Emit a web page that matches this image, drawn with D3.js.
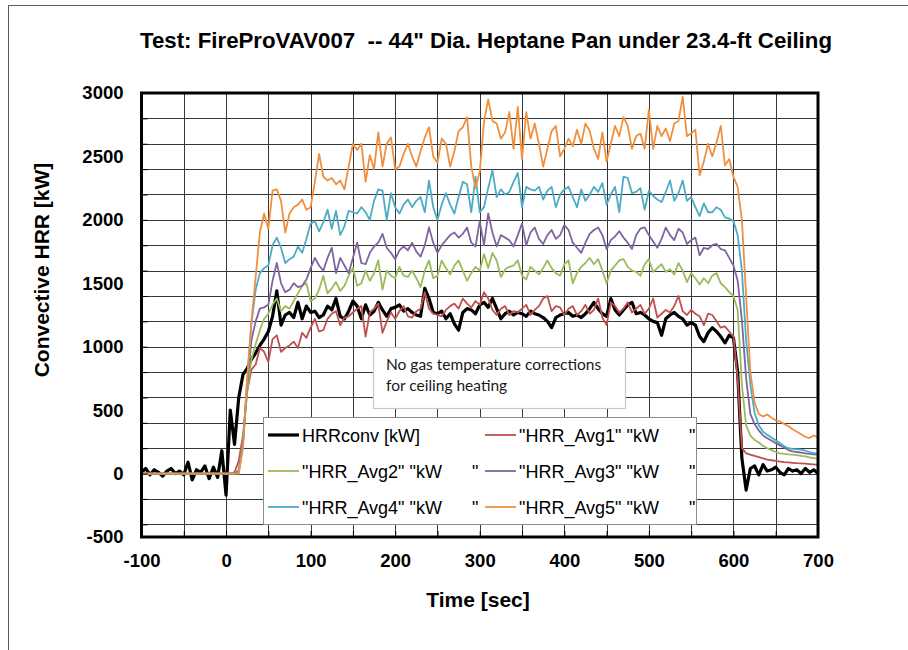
<!DOCTYPE html>
<html>
<head>
<meta charset="utf-8">
<script src="https://cdn.jsdelivr.net/npm/d3@7"></script>
<style>
  html, body { margin: 0; padding: 0; background: #ffffff; }
  svg { display: block; }
</style>
</head>
<body>
<svg id="chart" width="908" height="650"></svg>
<script>
// ---------------- DATA ----------------
const chartTitle = 'Test: FireProVAV007  -- 44" Dia. Heptane Pan under 23.4-ft Ceiling';
const xTitle = "Time [sec]";
const yTitle = "Convective HRR [kW]";
const xTickLabels = [-100, 0, 100, 200, 300, 400, 500, 600, 700];
const yTickLabels = [-500, 0, 500, 1000, 1500, 2000, 2500, 3000];
const seriesNames = ['HRRconv [kW]', '"HRR_Avg1" "kW      "', '"HRR_Avg2" "kW      "',
                     '"HRR_Avg3" "kW      "', '"HRR_Avg4" "kW      "', '"HRR_Avg5" "kW      "'];
const noteLines = ["No gas temperature corrections", "for ceiling heating"];

const time = [
  -100,-95,-90,-85,-80,-75,-70,-65,-60,-55,-50,-45,-40,-35,-30,-25,-20,-15,-10,-5,
  0,5,10,15,20,25,30,35,40,45,50,55,60,65,70,75,80,85,90,95,
  100,105,110,115,120,125,130,135,140,145,150,155,160,165,170,175,180,185,190,195,
  200,205,210,215,220,225,230,235,240,245,250,255,260,265,270,275,280,285,290,295,
  300,305,310,315,320,325,330,335,340,345,350,355,360,365,370,375,380,385,390,395,
  400,405,410,415,420,425,430,435,440,445,450,455,460,465,470,475,480,485,490,495,
  500,505,510,515,520,525,530,535,540,545,550,555,560,565,570,575,580,585,590,595,
  600,605,610,615,620,625,630,635,640,645,650,655,660,665,670,675,680,685,690,695,
  700];

const hrrConv = [
  10,40,-10,30,10,-20,20,40,0,20,-10,90,-50,30,10,60,-40,50,-30,180,
  -170,500,230,600,780,830,900,950,1010,1060,1120,1240,1440,1170,1250,1270,1230,1350,1220,1320,
  1270,1280,1230,1250,1320,1290,1380,1240,1220,1280,1360,1320,1220,1330,1250,1280,1350,1290,1240,1300,
  1310,1330,1280,1300,1270,1250,1240,1460,1380,1270,1260,1280,1220,1260,1180,1130,1270,1300,1290,1260,
  1330,1350,1310,1380,1300,1220,1260,1280,1250,1270,1260,1240,1280,1260,1250,1230,1200,1150,1230,1250,
  1260,1270,1240,1250,1230,1260,1300,1350,1300,1260,1240,1380,1290,1250,1290,1330,1350,1260,1270,1250,
  1220,1200,1190,1090,1220,1250,1270,1240,1220,1170,1190,1170,1080,1040,1110,1150,1120,1080,1030,1090,
  1070,800,120,-130,40,60,-10,70,20,30,50,10,-10,40,20,30,0,40,10,30,
  0];

const hrrAvg1 = [
  0,0,0,0,0,0,0,0,0,0,0,0,0,0,0,0,0,0,0,0,
  0,0,10,100,300,650,820,860,990,960,880,1060,1090,960,990,1010,1040,990,1110,1070,
  1150,1220,1120,1130,1220,1260,1280,1170,1230,1240,1270,1300,1320,1080,1270,1300,1340,1110,1200,1270,
  1220,1280,1320,1240,1230,1280,1300,1430,1300,1260,1250,1240,1290,1320,1340,1300,1380,1340,1310,1360,
  1330,1430,1380,1290,1250,1300,1320,1250,1280,1270,1300,1330,1250,1290,1320,1380,1400,1280,1320,1310,
  1250,1300,1320,1250,1280,1330,1260,1290,1380,1230,1170,1350,1320,1270,1300,1350,1270,1300,1330,1260,
  1300,1380,1230,1260,1290,1270,1320,1400,1280,1250,1290,1260,1240,1170,1260,1250,1200,1150,1160,1120,
  1080,750,200,160,150,140,130,120,110,105,100,95,90,88,85,82,80,78,75,72,
  70];

const hrrAvg2 = [
  0,0,0,0,0,0,0,0,0,0,0,0,0,0,0,0,0,0,0,0,
  0,0,0,30,250,650,900,1020,1130,1220,1260,1330,1380,1280,1320,1300,1360,1420,1480,1500,
  1360,1380,1450,1560,1420,1460,1510,1440,1480,1560,1620,1480,1500,1600,1520,1580,1680,1450,1600,1560,
  1540,1630,1560,1550,1600,1540,1470,1600,1680,1540,1560,1680,1620,1570,1640,1680,1600,1520,1580,1630,
  1600,1730,1620,1740,1680,1550,1610,1630,1640,1680,1560,1530,1630,1600,1570,1620,1680,1620,1580,1560,
  1650,1680,1500,1580,1630,1660,1700,1650,1690,1600,1500,1600,1640,1680,1690,1630,1600,1590,1560,1650,
  1690,1590,1620,1650,1590,1610,1570,1660,1600,1510,1580,1540,1490,1540,1500,1560,1580,1500,1470,1430,
  1400,1290,700,380,300,265,245,220,200,185,170,160,155,152,150,145,140,135,128,122,
  118];

const hrrAvg3 = [
  0,0,0,0,0,0,0,0,0,0,0,0,0,0,0,0,0,0,0,0,
  0,0,0,20,250,700,1050,1200,1300,1310,1330,1520,1660,1500,1430,1450,1500,1470,1480,1530,
  1620,1700,1640,1600,1700,1780,1580,1700,1640,1580,1700,1820,1660,1650,1740,1790,1820,1890,1780,1740,
  1690,1760,1790,1760,1820,1750,1710,1800,1940,1820,1740,1800,1840,1880,1900,1860,1890,1940,1820,1790,
  1990,1800,2050,1900,1790,1880,1860,1840,1790,1880,1970,1800,1900,1940,1850,1810,1880,1920,1850,1880,
  1960,1920,1820,1780,1740,1820,1890,1920,1940,1880,1770,1840,1870,1910,1860,1820,1770,1880,1930,1940,
  1880,1830,1780,1850,1940,1880,1840,1930,1900,1810,1840,1860,1720,1780,1770,1800,1810,1770,1760,1700,
  1640,1520,1210,750,470,390,340,300,278,260,240,222,205,185,175,170,165,160,155,152,
  150];

const hrrAvg4 = [
  0,0,0,0,0,0,0,0,0,0,0,0,0,0,0,0,0,0,0,0,
  0,0,0,10,220,750,1180,1450,1580,1620,1640,1800,1860,1780,1660,1690,1710,1790,1740,1850,
  1970,1990,1910,1980,2080,1930,2070,1880,1950,2070,2060,2050,2100,2060,2000,2150,2240,2230,2000,2210,
  2100,2050,2120,2160,2100,2150,2180,2060,2310,2100,2000,2120,2210,2120,2050,2180,2300,2280,2060,2340,
  2060,2100,2250,2390,2180,2240,2200,2220,2300,2370,2100,2260,2240,2230,2260,2160,2230,2260,2100,2200,
  2240,2260,2180,2100,2240,2150,2200,2260,2220,2290,2120,2200,2260,2060,2340,2330,2210,2220,2250,2080,
  2230,2190,2160,2140,2220,2310,2150,2210,2310,2150,2180,2100,2030,2130,2060,2060,2100,2080,2020,2010,
  1990,1880,1600,1050,700,480,380,330,305,285,262,240,215,200,195,192,188,180,170,162,
  158];

const hrrAvg5 = [
  0,0,0,0,0,0,0,0,0,0,0,0,0,0,0,0,0,0,0,0,
  0,0,0,0,200,750,1200,1550,1900,2050,1930,2230,2240,2150,1900,2050,2100,2120,2160,2080,
  2100,2300,2520,2340,2310,2330,2280,2310,2240,2420,2600,2550,2600,2300,2510,2400,2690,2420,2600,2650,
  2400,2420,2520,2600,2500,2420,2540,2650,2730,2500,2450,2640,2600,2420,2540,2700,2730,2810,2420,2250,
  2380,2770,2950,2780,2760,2640,2690,2850,2560,2890,2480,2850,2640,2760,2600,2420,2560,2700,2740,2500,
  2560,2640,2580,2710,2600,2760,2700,2560,2480,2690,2460,2600,2740,2660,2810,2740,2560,2660,2680,2560,
  2870,2560,2740,2660,2720,2620,2760,2780,2970,2660,2680,2710,2350,2460,2600,2500,2610,2740,2430,2480,
  2340,2260,2000,1400,800,560,470,450,465,440,420,410,390,375,350,330,310,290,280,300,
  285];

const seriesColors = ["#000000", "#C0504D", "#9BBB59", "#8064A2", "#4BACC6", "#F0903E"];

// ---------------- CHART ----------------
(function () {
const svg = d3.select("#chart");
const pLeft = 141.5, pRight = 818, pTop = 93, pBottom = 537;
const x = d3.scaleLinear().domain([-100, 700]).range([pLeft, pRight]);
const y = d3.scaleLinear().domain([-500, 3000]).range([pBottom, pTop]);
const plainFmt = d => String(d);

// outer chart-area border (partially visible)
svg.append("path")
  .attr("d", "M8.5,650 V5.5 H908")
  .attr("fill", "none").attr("stroke", "#595959").attr("stroke-width", 1);

// title
svg.append("text")
  .attr("x", 486).attr("y", 48)
  .attr("text-anchor", "middle")
  .attr("font-family", "'Liberation Sans', Arial, sans-serif")
  .attr("font-weight", "bold").attr("font-size", 22)
  .attr("textLength", 692).attr("lengthAdjust", "spacingAndGlyphs")
  .style("white-space", "pre")
  .text(chartTitle);

// plot background
svg.append("rect").attr("x", pLeft).attr("y", pTop)
  .attr("width", pRight - pLeft).attr("height", pBottom - pTop).attr("fill", "#fff");

// gridlines
const grid = svg.append("g").attr("shape-rendering", "crispEdges");
grid.selectAll(".gx").data(x.ticks(16)).enter().append("line")
  .attr("x1", d => Math.round(x(d)) + 0.5).attr("x2", d => Math.round(x(d)) + 0.5)
  .attr("y1", pTop).attr("y2", pBottom)
  .attr("stroke", "#383838").attr("stroke-width", 1);
grid.selectAll(".gy").data(y.ticks(14)).enter().append("line")
  .attr("y1", d => Math.round(y(d)) + 0.5).attr("y2", d => Math.round(y(d)) + 0.5)
  .attr("x1", pLeft).attr("x2", pRight)
  .attr("stroke", "#383838").attr("stroke-width", 1);

// clip
svg.append("defs").append("clipPath").attr("id", "plotClip")
  .append("rect").attr("x", pLeft).attr("y", pTop)
  .attr("width", pRight - pLeft).attr("height", pBottom - pTop);

const allSeries = [hrrConv, hrrAvg1, hrrAvg2, hrrAvg3, hrrAvg4, hrrAvg5];
const line = d3.line().x((d, i) => x(time[i])).y(d => y(d));
const lineG = svg.append("g").attr("clip-path", "url(#plotClip)");
allSeries.forEach((s, k) => {
  lineG.append("path")
    .attr("d", line(s))
    .attr("fill", "none")
    .attr("stroke", seriesColors[k])
    .attr("stroke-width", k === 0 ? 3.2 : 1.8)
    .attr("stroke-linejoin", "round")
    .attr("stroke-linecap", "round");
});

// annotation box
const note = svg.append("g");
note.append("rect").attr("x", 373.5).attr("y", 347.5).attr("width", 252).attr("height", 61)
  .attr("fill", "#fff").attr("stroke", "#c8c8c8").attr("stroke-width", 1.2);
note.selectAll("text").data(noteLines).enter().append("text")
  .attr("x", 386).attr("y", (d, i) => 370 + i * 21)
  .attr("font-family", "Lato, 'Open Sans', sans-serif")
  .attr("font-size", 15.5).attr("fill", "#1a1a1a")
  .text(d => d);

// legend
const leg = svg.append("g");
leg.append("rect").attr("x", 263.5).attr("y", 417.5).attr("width", 433).attr("height", 107)
  .attr("fill", "#fff").attr("stroke", "#8c8c8c").attr("stroke-width", 1);
const legRowY = [435, 471, 507];
const legColX = [268, 485];
seriesNames.forEach((name, k) => {
  const col = k % 2, row = Math.floor(k / 2);
  const lx = legColX[col], ly = legRowY[row];
  leg.append("line").attr("x1", lx).attr("x2", lx + 31).attr("y1", ly).attr("y2", ly)
    .attr("stroke", seriesColors[k]).attr("stroke-width", k === 0 ? 3.2 : 1.8);
  leg.append("text").attr("x", lx + 34).attr("y", ly + 6.5)
    .attr("font-family", "'Liberation Sans', Arial, sans-serif")
    .attr("font-size", 18).attr("fill", "#000")
    .style("white-space", "pre")
    .text(name);
});

// frame
svg.append("rect").attr("x", pLeft).attr("y", pTop)
  .attr("width", pRight - pLeft).attr("height", pBottom - pTop)
  .attr("fill", "none").attr("stroke", "#000").attr("stroke-width", 3);

// inner tick marks
svg.append("g").attr("transform", `translate(0,${pBottom})`)
  .call(d3.axisBottom(x).ticks(16).tickSize(-6).tickFormat(""))
  .call(g => g.select(".domain").remove())
  .call(g => g.selectAll("line").attr("stroke", "#000").attr("stroke-width", 1));
svg.append("g").attr("transform", `translate(${pLeft},0)`)
  .call(d3.axisLeft(y).ticks(14).tickSize(-6).tickFormat(""))
  .call(g => g.select(".domain").remove())
  .call(g => g.selectAll("line").attr("stroke", "#000").attr("stroke-width", 1));

// axis labels
const xAxis = svg.append("g").attr("transform", `translate(0,${pBottom})`)
  .call(d3.axisBottom(x).tickValues(xTickLabels).tickSize(0).tickPadding(17).tickFormat(plainFmt));
xAxis.select(".domain").remove();
xAxis.selectAll("text").attr("font-family", "'Liberation Sans', Arial, sans-serif")
  .attr("font-weight", "bold").attr("font-size", 18.5).attr("fill", "#000");

const yAxis = svg.append("g").attr("transform", `translate(${pLeft},0)`)
  .call(d3.axisLeft(y).tickValues(yTickLabels).tickSize(0).tickPadding(18).tickFormat(plainFmt));
yAxis.select(".domain").remove();
yAxis.selectAll("text").attr("font-family", "'Liberation Sans', Arial, sans-serif")
  .attr("font-weight", "bold").attr("font-size", 18.5).attr("fill", "#000");

// axis titles
svg.append("text").attr("x", 478).attr("y", 607).attr("text-anchor", "middle")
  .attr("font-family", "'Liberation Sans', Arial, sans-serif")
  .attr("font-weight", "bold").attr("font-size", 21).text(xTitle);
svg.append("text").attr("transform", "translate(49,270) rotate(-90)")
  .attr("text-anchor", "middle")
  .attr("font-family", "'Liberation Sans', Arial, sans-serif")
  .attr("font-weight", "bold").attr("font-size", 21).text(yTitle);
})();
</script>
</body>
</html>
